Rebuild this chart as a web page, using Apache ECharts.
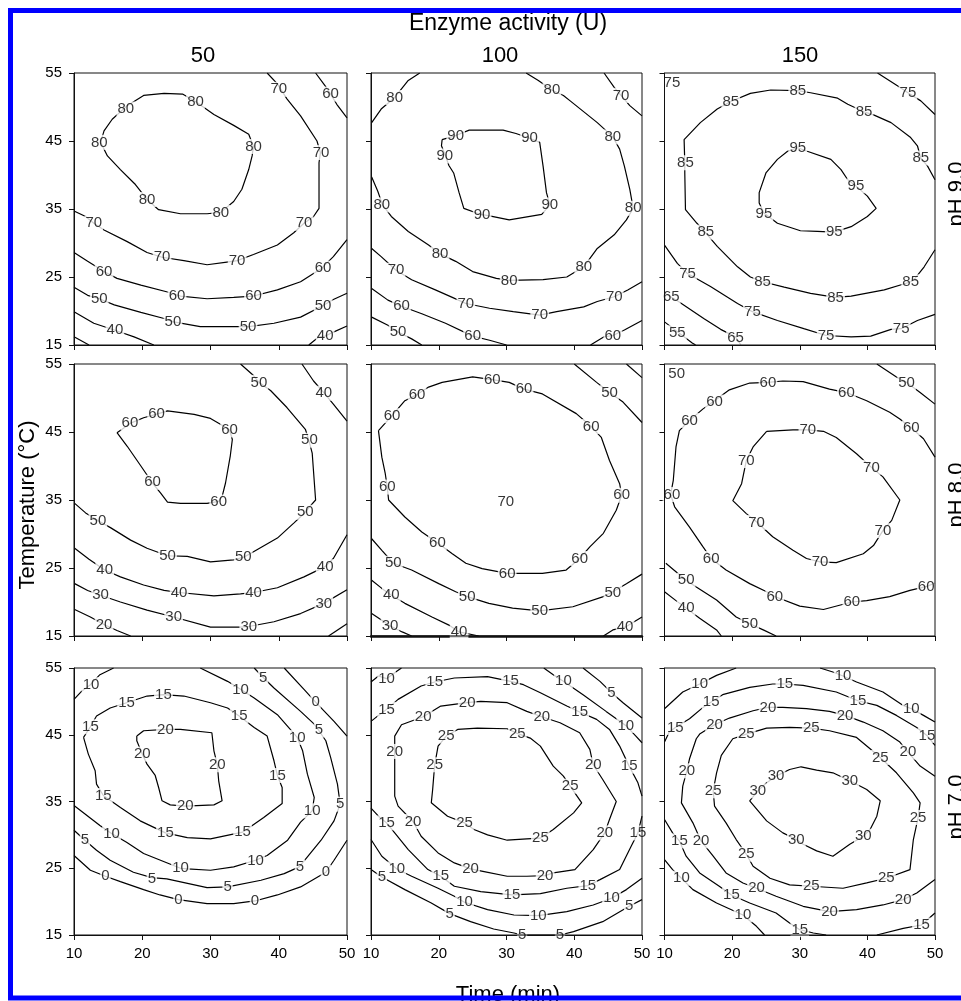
<!DOCTYPE html>
<html><head><meta charset="utf-8">
<script src="https://cdn.jsdelivr.net/npm/echarts@6/dist/echarts.min.js"></script>
<style>html,body{margin:0;padding:0;background:#fff}#c{width:961px;height:1001px}</style>
</head><body><div id="c"></div>
<script>
// ---------- tick labels / headings ----------
const timeTicks = [10, 20, 30, 40, 50];
const tempTicks = [15, 25, 35, 45, 55];
const enzymeLevels = ['50', '100', '150'];
const phLevels = ['pH 9.0', 'pH 8.0', 'pH 7.0'];

// ---------- Panel 1: pH 9.0, 50 U ----------
const p1_80 = [[13.9,44.8],[14.9,42.8],[16.8,40.8],[19.0,38.6],[20.7,36.4],[22.4,34.9],[25.6,34.3],[29.5,34.3],[31.5,34.5],[33.4,36.1],[34.6,37.9],[35.6,40.8],[36.1,42.8],[36.3,44.2],[35.6,46.0],[33.4,47.3],[30.5,48.9],[27.8,50.8],[25.9,51.9],[23.2,52.0],[20.2,51.7],[17.8,50.2],[15.6,48.2],[14.4,46.5],[13.9,44.8]];
const p1_70 = [[38.3,55],[39.8,53.4],[41.2,51.2],[43.2,48.7],[45.6,45.0],[46.1,43.3],[45.9,41.8],[45.9,35.1],[45.1,33.9],[43.7,32.9],[42.2,31.5],[39.8,29.7],[36.3,28.3],[33.9,27.4],[32.4,27.2],[29.5,26.8],[26.1,27.4],[22.9,27.9],[20.7,28.6],[17.8,30.2],[14.4,31.9],[12.9,32.9],[11.7,33.9],[10,34.7]];
const p1_60a = [[45.4,55],[46.8,53.1],[47.6,51.9],[48.5,50.4],[50,48.4]];
const p1_60b = [[10,28.6],[12.0,27.3],[14.4,25.8],[16.3,24.8],[19.8,23.8],[23.7,22.8],[25.6,22.2],[29.5,21.8],[33.4,22.0],[36.3,22.2],[39.8,23.1],[43.2,24.3],[46.3,26.3],[48.0,28.0],[50,30.5]];
const p1_50 = [[10,23.5],[12.0,22.3],[13.7,21.8],[15.9,20.9],[19.8,19.8],[23.2,18.9],[24.6,18.4],[28.5,17.7],[33.4,17.7],[35.6,17.7],[39.3,18.2],[43.2,19.1],[46.3,20.7],[48.0,21.7],[50,22.6]];
const p1_40a = [[10,19.9],[12.9,18.2],[15.9,17.2],[18.8,16.2],[21.7,15]];
const p1_40b = [[44.4,15],[45.9,16.2],[46.8,16.3],[48.0,16.9],[50,17.8]];
const p1_30 = [[10,16.2],[12.2,15]];
const p1_lab = [[13.7,44.8,'80'],[20.7,36.4,'80'],[31.5,34.5,'80'],[36.3,44.2,'80'],[27.8,50.8,'80'],[17.6,49.7,'80'],
 [40.0,52.6,'70'],[46.2,43.3,'70'],[43.7,32.9,'70'],[33.9,27.4,'70'],[22.9,27.9,'70'],[12.9,32.9,'70'],
 [47.6,51.9,'60'],[14.4,25.8,'60'],[25.1,22.2,'60'],[36.3,22.2,'60'],[46.5,26.3,'60'],
 [13.7,21.8,'50'],[24.5,18.4,'50'],[35.5,17.7,'50'],[46.5,20.7,'50'],
 [16.0,17.2,'40'],[46.8,16.3,'40']];

// ---------- Panel 2: pH 9.0, 100 U ----------
const p2_80a = [[10.1,47.7],[11.5,49.7],[13.5,51.4],[15.5,53.9],[17.2,55]];
const p2_80b = [[10.1,39.7],[11.0,37.6],[11.7,35.6],[13.0,33.9],[15.5,31.7],[18.5,29.7],[20.2,28.4],[22.5,27.3],[25.0,25.8],[28.5,24.8],[30.4,24.5],[35.4,24.6],[38.9,25.0],[41.4,26.5],[43.4,29.2],[45.9,31.2],[47.7,33.4],[48.7,35.1],[48.2,37.9],[47.4,41.3],[46.7,43.8],[45.7,45.6],[43.4,47.7],[39.4,50.9],[38.4,51.7],[36.7,52.5],[34.7,53.9],[32.9,55]];
const p2_70a = [[44.4,55],[45.9,52.9],[46.9,51.7],[48.2,50.2],[50,48.7]];
const p2_90 = [[20.5,45.2],[22.5,45.8],[24.5,46.6],[29.5,46.6],[31.4,46.1],[33.4,45.4],[34.9,44.8],[35.4,41.3],[35.9,37.4],[36.4,35.6],[35.2,34.2],[30.4,33.4],[27.5,34.0],[26.2,34.2],[23.7,35.1],[23.0,37.4],[22.2,40.3],[21.5,41.4],[21.0,42.8],[20.4,44.3],[20.5,45.2]];
const p2_70b = [[10.1,29.2],[11.5,28.0],[13.7,26.0],[16.0,24.6],[19.5,23.1],[22.0,22.0],[24.0,21.1],[27.5,20.4],[31.0,19.9],[34.9,19.4],[37.4,19.9],[41.4,20.6],[43.4,21.4],[45.9,22.1],[47.9,23.1],[50,24.3]];
const p2_60a = [[10.1,23.3],[12.5,21.6],[14.5,20.7],[17.5,19.6],[21.0,18.2],[25.0,16.3],[27.5,15.7],[30.0,15]];
const p2_60b = [[42.4,15],[44.4,16.2],[45.7,16.4],[47.4,17.2],[50,18.6]];
const p2_50 = [[10.1,19.1],[12.5,17.9],[14.0,16.9],[16.0,15.9],[17.5,15]];
const p2_lab = [[13.5,51.4,'80'],[11.6,35.6,'80'],[20.2,28.4,'80'],[30.4,24.5,'80'],[41.4,26.5,'80'],[48.7,35.1,'80'],[45.7,45.6,'80'],[36.7,52.5,'80'],
 [46.9,51.7,'70'],
 [22.5,45.7,'90'],[20.9,42.8,'90'],[33.4,45.4,'90'],[36.4,35.6,'90'],[26.4,34.2,'90'],
 [13.7,26.0,'70'],[24.0,21.1,'70'],[34.9,19.4,'70'],[45.9,22.1,'70'],
 [14.5,20.7,'60'],[25.0,16.3,'60'],[45.7,16.4,'60'],
 [14.0,16.9,'50']];

// ---------- Panel 3: pH 9.0, 150 U ----------
const p3_85 = [[50,29.0],[48.4,26.5],[46.9,24.6],[46.4,24.3],[45.5,24.0],[42.5,23.1],[37.6,22.2],[35.3,22.0],[31.6,22.6],[27.7,23.5],[24.5,24.3],[22.7,25.0],[20.8,26.5],[17.8,29.5],[16.1,31.5],[14.8,32.9],[13.1,34.9],[13.0,40.3],[13.0,41.8],[12.9,45.2],[15.3,47.7],[17.8,49.7],[19.8,50.8],[22.7,52.0],[25.7,52.5],[29.7,52.4],[31.6,52.1],[35.6,51.3],[37.1,50.4],[39.5,49.3],[41.0,48.8],[43.5,47.7],[46.4,45.5],[47.4,44.3],[47.9,42.5],[48.9,41.3],[50,39.3]];
const p3_95 = [[29.7,44.0],[31.1,43.5],[34.6,42.3],[36.1,40.8],[37.1,39.3],[38.3,38.4],[40.0,36.9],[41.3,35.1],[40.0,33.9],[37.6,32.4],[35.1,31.6],[32.6,31.7],[30.1,31.8],[26.7,32.9],[24.7,34.4],[24.0,35.9],[24.0,37.4],[25.0,40.3],[26.7,42.3],[28.2,43.5],[29.7,44.0]];
const p3_75a = [[41.5,55],[44.5,53.1],[46.0,52.1],[47.9,50.9],[50,48.9]];
const p3_75b = [[10,29.7],[11.9,27.0],[13.4,25.5],[16.8,23.6],[20.8,21.1],[23.0,19.9],[26.7,18.6],[30.6,17.4],[33.9,16.4],[37.6,16.2],[40.5,16.3],[43.5,17.3],[45.0,17.4],[47.4,18.6],[50,19.5]];
const p3_65 = [[10,22.6],[11.9,21.5],[15.8,18.9],[18.3,17.3],[20.5,16.2],[21.3,15]];
const p3_55 = [[10,18.4],[14.1,15.3],[14.6,15]];
const p3_lab = [[11.1,53.5,'75'],
 [46.4,24.3,'85'],[35.3,22.0,'85'],[24.5,24.3,'85'],[16.1,31.6,'85'],[13.1,41.8,'85'],[19.8,50.8,'85'],[29.7,52.4,'85'],[39.5,49.3,'85'],[47.9,42.5,'85'],
 [29.7,44.0,'95'],[38.3,38.4,'95'],[35.1,31.6,'95'],[24.7,34.3,'95'],
 [46.0,52.1,'75'],[13.4,25.5,'75'],[23.0,19.9,'75'],[33.9,16.4,'75'],[45.0,17.4,'75'],
 [11.0,22.1,'65'],[20.5,16.1,'65'],[11.9,16.8,'55']];

// ---------- Panel 4: pH 8.0, 50 U ----------
const p4_60 = [[16.3,44.9],[18.3,46.3],[20.2,47.1],[22.0,47.6],[23.7,48.1],[27.6,47.6],[30.0,47.0],[31.7,46.0],[32.8,45.3],[33.2,43.9],[32.9,41.5],[32.2,37.5],[31.7,35.5],[31.2,34.8],[29.5,34.5],[25.6,34.5],[23.7,34.7],[22.7,36.0],[21.5,37.5],[19.8,40.0],[17.8,42.9],[16.3,44.9]];
const p4_50 = [[34.4,55],[36.3,53.3],[37.1,52.3],[38.8,51.1],[41.2,48.6],[43.9,45.4],[44.4,43.8],[44.9,41.9],[45.4,35.0],[44.6,34.1],[43.9,33.2],[42.2,31.6],[39.8,29.4],[36.3,27.4],[34.9,26.6],[33.4,26.2],[30.0,25.9],[26.6,26.7],[23.7,26.8],[20.7,27.9],[18.3,29.1],[15.4,30.9],[13.5,32.0],[11.7,33.1],[10.1,34.5]];
const p4_40a = [[43.4,55],[45.1,52.5],[46.6,50.8],[48.0,49.1],[50,46.6]];
const p4_40b = [[10.1,27.9],[12.2,26.3],[14.5,24.7],[16.8,23.7],[20.2,22.5],[23.2,21.7],[25.4,21.4],[30.5,20.9],[34.4,21.2],[36.3,21.4],[39.8,22.1],[43.7,23.7],[46.8,25.2],[48.0,26.4],[50,29.9]];
const p4_30 = [[10.1,22.7],[12.0,21.7],[13.9,21.0],[16.8,20.0],[20.7,18.8],[24.6,17.8],[30.0,16.3],[34.4,16.3],[35.6,16.4],[39.3,17.1],[43.2,18.3],[46.6,19.8],[50,21.8]];
const p4_20a = [[10.1,18.9],[12.4,17.8],[14.4,16.7],[16.3,15.8],[18.3,15]];
const p4_20b = [[47.3,15],[50,16.8]];
const p4_lab = [[18.2,46.3,'60'],[22.1,47.6,'60'],[32.8,45.3,'60'],[21.5,37.6,'60'],[31.2,34.7,'60'],
 [37.1,52.3,'50'],[44.5,43.8,'50'],[43.9,33.2,'50'],[34.8,26.6,'50'],[23.7,26.8,'50'],[13.5,32.0,'50'],
 [46.6,50.7,'40'],[14.5,24.7,'40'],[25.4,21.4,'40'],[36.3,21.4,'40'],[46.8,25.2,'40'],
 [13.9,21.0,'30'],[24.6,17.8,'30'],[35.6,16.4,'30'],[46.6,19.7,'30'],
 [14.4,16.7,'20']];

// ---------- Panel 5: pH 8.0, 100 U ----------
const p5_60 = [[11.1,45.2],[13.1,47.4],[15.0,49.6],[16.8,50.5],[18.5,51.6],[20.5,52.3],[25.0,53.1],[27.9,52.7],[30.4,52.3],[32.6,51.3],[35.3,50.6],[40.3,47.7],[42.5,45.8],[44.0,44.2],[45.2,40.8],[46.7,37.4],[47.0,35.7],[46.2,33.5],[44.3,30.1],[42.3,28.1],[40.8,26.4],[38.8,24.7],[35.3,24.2],[32.4,24.2],[30.1,24.2],[26.4,24.9],[24.0,25.7],[22.0,27.1],[19.8,28.7],[17.5,30.3],[15.0,32.5],[12.6,35.0],[12.4,36.9],[12.1,38.9],[11.6,41.3],[11.1,45.2]];
const p5_50a = [[40.0,55],[43.3,52.3],[45.2,50.8],[47.2,49.4],[50,46.4]];
const p5_40a = [[47.7,55],[50,53.0]];
const p5_50b = [[10.1,29.3],[11.6,27.6],[13.3,25.7],[16.0,24.7],[20.0,22.7],[22.5,21.5],[24.2,20.8],[27.4,19.8],[30.9,19.1],[34.9,18.7],[39.8,19.3],[44.3,20.8],[45.7,21.5],[47.7,22.7],[50,24.1]];
const p5_40b = [[10.1,23.2],[11.6,22.0],[13.0,21.0],[15.0,19.8],[19.0,17.8],[21.5,16.6],[23.0,15.6],[25.9,15]];
const p5_40c = [[44.3,15],[45.7,15.9],[47.5,16.3],[50,17.8]];
const p5_30 = [[10.1,18.3],[11.6,17.3],[12.8,16.5],[14.6,15.6],[16.0,15]];
const p5_lab = [[27.9,52.7,'60'],[32.6,51.3,'60'],[16.8,50.5,'60'],[13.1,47.4,'60'],[12.4,36.9,'60'],[19.8,28.7,'60'],[30.1,24.2,'60'],[40.8,26.4,'60'],[47.0,35.7,'60'],[42.5,45.8,'60'],
 [29.9,34.7,'70'],
 [45.2,50.8,'50'],[13.3,25.7,'50'],[24.2,20.7,'50'],[34.9,18.7,'50'],[45.7,21.4,'50'],
 [13.0,21.0,'40'],[23.0,15.6,'40'],[47.5,16.3,'40'],
 [12.8,16.5,'30']];

// ---------- Panel 6: pH 8.0, 150 U ----------
const p6_60 = [[50,41.3],[48.3,44.0],[46.5,45.6],[44.8,46.9],[43.3,47.9],[39.9,49.6],[36.9,50.8],[34.4,51.3],[30.5,52.4],[27.5,52.5],[25.3,52.3],[22.6,52.2],[19.6,51.2],[17.4,49.6],[15.7,48.4],[13.7,46.7],[12.2,45.2],[11.7,42.8],[11.3,37.9],[10.9,35.8],[11.5,34.0],[13.7,31.0],[15.7,28.1],[16.9,26.4],[19.1,24.7],[22.6,22.7],[25.1,21.5],[26.3,20.8],[30.0,19.4],[33.5,18.9],[37.7,20.0],[39.9,20.2],[43.3,20.8],[46.3,21.7],[48.8,22.3],[50,22.8]];
const p6_50a = [[41.4,55],[44.3,53.1],[45.8,52.3],[47.8,50.8],[50,49.1]];
const p6_70 = [[25.1,45.1],[29.0,45.3],[31.2,45.3],[33.5,45.1],[35.4,44.2],[38.4,41.8],[40.6,39.8],[42.3,38.4],[44.8,35.0],[43.6,32.0],[42.3,30.5],[40.9,28.3],[39.4,27.1],[35.4,25.8],[33.0,25.9],[31.0,26.4],[29.0,27.6],[26.0,29.6],[23.6,31.8],[22.1,33.0],[20.1,34.9],[21.4,37.4],[22.1,40.8],[23.1,42.8],[25.1,45.1]];
const p6_50b = [[10.2,25.7],[12.0,24.2],[13.2,23.2],[14.7,22.2],[17.7,20.3],[20.6,17.8],[22.6,16.8],[24.6,15.9],[26.5,15]];
const p6_40 = [[10,21.5],[11.7,20.2],[13.2,19.1],[15.2,17.6],[17.7,15.9],[18.4,15]];
const p6_lab = [[11.8,53.6,'50'],
 [25.3,52.3,'60'],[36.9,50.8,'60'],[17.4,49.4,'60'],[13.7,46.7,'60'],[46.5,45.6,'60'],[11.1,35.8,'60'],[16.9,26.4,'60'],[26.3,20.7,'60'],[37.7,20.0,'60'],[48.7,22.3,'60'],
 [45.8,52.3,'50'],
 [31.2,45.3,'70'],[22.1,40.8,'70'],[40.6,39.8,'70'],[23.6,31.7,'70'],[42.3,30.5,'70'],[33.0,25.9,'70'],
 [13.2,23.2,'50'],[22.6,16.8,'50'],
 [13.2,19.1,'40']];

// ---------- Panel 7: pH 7.0, 50 U ----------
const p7_10a = [[10,50.3],[11.1,51.5],[12.4,52.5],[13.8,54.0],[15.8,55]];
const p7_10b = [[28.5,55],[32.5,53.0],[34.4,51.8],[36.4,50.5],[39.8,48.0],[42.3,45.1],[42.7,44.6],[43.5,42.6],[44.2,39.1],[45.2,35.6],[44.9,33.6],[43.2,31.9],[41.3,29.2],[38.3,26.9],[36.6,26.2],[33.4,25.2],[30.0,24.7],[26.6,24.9],[25.6,25.0],[20.2,27.2],[17.7,28.9],[15.5,30.2],[13.8,31.4],[10,34.4]];
const p7_15 = [[11.4,44.6],[12.1,42.1],[13.1,39.6],[13.3,37.6],[14.3,35.9],[16.8,34.1],[19.7,32.1],[23.4,30.3],[26.6,29.6],[30.0,29.4],[34.7,30.4],[37.8,32.6],[40.5,34.7],[40.5,37.1],[39.8,38.9],[39.3,41.1],[38.3,44.8],[36.4,46.1],[34.2,47.8],[32.5,49.0],[30.0,49.8],[26.1,50.8],[23.1,51.0],[20.7,50.8],[17.7,49.8],[15.3,49.0],[13.3,47.8],[12.4,46.2],[11.4,44.6]];
const p7_20 = [[19.2,44.8],[20.2,45.6],[23.4,45.8],[25.6,45.8],[30.2,45.3],[30.5,42.6],[31.0,40.5],[31.2,38.1],[31.7,35.1],[30.5,34.5],[26.3,34.3],[24.1,34.5],[22.9,35.1],[22.4,37.1],[21.9,38.9],[20.7,40.6],[20.0,42.1],[19.2,44.1],[19.2,44.8]];
const p7_5 = [[36.4,55],[37.8,53.5],[39.3,52.0],[43.2,48.5],[45.2,46.6],[45.9,45.6],[46.9,44.1],[47.6,41.6],[48.6,37.6],[49.0,34.6],[48.1,32.1],[46.2,29.2],[44.2,26.7],[43.0,25.2],[40.8,24.2],[37.4,23.2],[32.5,22.2],[29.5,22.1],[23.6,23.4],[21.4,23.6],[18.7,24.4],[15.3,26.2],[13.3,27.7],[11.6,29.2],[10,30.7]];
const p7_0a = [[40.8,55],[43.7,51.8],[45.4,49.9],[48.1,47.0],[50,44.8]];
const p7_0b = [[10,26.9],[12.4,24.7],[14.6,23.8],[16.8,23.0],[20.2,21.8],[22.6,21.0],[25.3,20.3],[29.5,19.7],[33.4,19.7],[36.5,20.1],[39.8,21.0],[43.2,22.2],[46.9,24.4],[48.1,26.2],[50,29.2]];
const p7_lab = [[12.5,52.5,'10'],[34.4,51.8,'10'],[42.7,44.6,'10'],[44.9,33.6,'10'],[36.6,26.1,'10'],[25.6,25.0,'10'],[15.5,30.2,'10'],
 [17.7,49.8,'15'],[23.1,51.0,'15'],[34.2,47.8,'15'],[12.4,46.2,'15'],[39.8,38.9,'15'],[14.3,35.9,'15'],[23.4,30.3,'15'],[34.7,30.4,'15'],
 [23.4,45.8,'20'],[20.0,42.1,'20'],[31.0,40.5,'20'],[26.3,34.3,'20'],
 [37.7,53.5,'5'],[45.9,45.7,'5'],[49.0,34.6,'5'],[43.1,25.2,'5'],[32.5,22.2,'5'],[21.4,23.4,'5'],[11.6,29.2,'5'],
 [45.4,49.9,'0'],[14.6,23.8,'0'],[25.3,20.3,'0'],[36.5,20.1,'0'],[46.9,24.4,'0']];

// ---------- Panel 8: pH 7.0, 100 U ----------
const p8_10a = [[10,52.9],[11.1,53.8],[12.3,53.4],[13.8,54.5],[14.5,55]];
const p8_15a = [[10,47.0],[11.1,47.9],[12.3,48.8],[14.0,50.3],[17.4,52.3],[19.4,52.9],[22.3,53.5],[27.2,53.7],[30.6,53.0],[32.5,52.5],[35.0,51.3],[38.9,49.3],[40.8,48.4],[43.3,47.3],[45.2,45.8],[46.7,43.3],[48.1,40.3],[49.4,37.8],[50,35.8]];
const p8_15b = [[10,34.0],[11.1,32.8],[12.3,31.8],[13.5,30.3],[15.5,27.8],[18.4,24.8],[20.3,23.8],[22.3,22.3],[26.2,21.5],[30.8,21.0],[35.0,21.2],[38.9,22.0],[42.0,22.4],[43.8,23.3],[46.7,24.8],[48.4,28.3],[49.4,30.3],[50,32.8]];
const p8_20 = [[13.5,42.5],[13.5,44.8],[14.5,46.5],[17.7,47.7],[20.3,49.3],[24.2,49.8],[26.2,50.0],[30.1,49.8],[33.0,48.5],[35.2,47.7],[37.9,46.8],[40.8,45.3],[42.3,42.8],[42.8,40.5],[44.2,38.3],[46.2,35.0],[45.2,32.3],[44.5,30.3],[42.8,27.8],[40.1,24.8],[36.9,24.3],[35.7,23.9],[33.0,23.8],[30.1,23.8],[26.7,24.5],[24.7,24.9],[22.3,25.8],[19.9,27.3],[17.4,29.8],[16.2,32.0],[14.0,34.3],[13.5,35.8],[13.5,39.3],[13.5,42.5]];
const p8_25 = [[21.1,44.8],[22.8,45.8],[25.7,46.0],[30.1,45.9],[31.6,45.2],[33.5,44.5],[35.0,43.3],[36.9,40.3],[38.4,38.8],[39.4,37.3],[41.1,34.8],[39.9,33.3],[36.9,30.8],[35.0,29.5],[33.0,29.4],[30.1,29.2],[27.2,30.0],[25.2,30.8],[23.8,31.8],[21.3,32.8],[18.9,34.8],[19.1,36.8],[19.4,40.5],[19.9,43.3],[21.1,44.8]];
const p8_10b = [[35.5,55],[36.9,54.0],[38.4,53.0],[41.3,51.0],[44.7,48.5],[47.6,46.4],[49.1,44.8],[50,43.8]];
const p8_5a = [[41.3,55],[43.8,53.0],[45.5,51.3],[47.2,49.8],[50,47.5]];
const p8_10c = [[10,29.3],[11.6,26.8],[13.8,24.9],[16.0,23.8],[19.9,22.0],[22.3,20.8],[23.8,19.9],[27.2,18.8],[31.1,18.0],[34.7,17.9],[38.9,18.5],[42.8,19.5],[45.5,20.5],[47.7,21.8],[50,23.5]];
const p8_5b = [[10,24.8],[11.6,23.7],[15.0,21.8],[18.9,19.8],[21.6,18.2],[24.7,17.0],[28.1,15.9],[31.1,15.3],[32.3,15.0],[35.0,15.0],[37.9,15.0],[39.9,15.5],[44.2,17.0],[48.1,19.3],[50,20.3]];
const p8_lab = [[12.3,53.4,'10'],
 [12.3,48.8,'15'],[19.4,52.9,'15'],[30.6,53.0,'15'],[40.8,48.4,'15'],[48.1,40.3,'15'],
 [12.3,31.8,'15'],[20.3,23.8,'15'],[30.8,21.0,'15'],[42.0,22.4,'15'],[49.4,30.3,'15'],
 [17.7,47.7,'20'],[24.2,49.8,'20'],[35.2,47.7,'20'],[42.8,40.5,'20'],[44.5,30.3,'20'],[35.7,23.9,'20'],[24.7,24.9,'20'],[16.2,32.0,'20'],[13.5,42.5,'20'],
 [21.1,44.8,'25'],[19.4,40.5,'25'],[31.6,45.2,'25'],[39.4,37.3,'25'],[35.0,29.5,'25'],[23.8,31.8,'25'],
 [38.4,53.0,'10'],[47.6,46.4,'10'],[45.5,51.3,'5'],
 [13.8,24.9,'10'],[23.8,19.9,'10'],[34.7,17.9,'10'],[45.5,20.5,'10'],
 [11.6,23.7,'5'],[21.6,18.2,'5'],[32.3,15.0,'5'],[37.9,15.0,'5'],[48.1,19.3,'5']];

// ---------- Panel 9: pH 7.0, 150 U ----------
const p9_10a = [[10,48.9],[12.7,51.4],[15.2,52.6],[17.7,53.9],[20.6,55]];
const p9_10b = [[33.0,55],[34.9,54.4],[36.4,53.8],[38.4,52.9],[42.3,51.4],[45.3,49.4],[46.5,48.9],[48.3,47.9],[50,46.9]];
const p9_15a = [[10,43.9],[10.7,45.4],[11.6,46.1],[13.7,47.4],[15.7,49.1],[16.9,49.9],[18.6,51.0],[22.6,52.1],[26.0,52.6],[27.8,52.6],[30.5,52.4],[35.4,51.4],[38.6,50.1],[41.4,49.4],[44.3,47.9],[47.3,46.1],[48.8,44.9],[50,43.4]];
const p9_20 = [[50,38.8],[47.8,40.3],[46.0,42.4],[44.8,43.9],[42.3,45.6],[39.4,46.9],[36.7,47.9],[34.4,48.5],[31.0,48.9],[27.5,49.1],[25.3,49.1],[23.1,48.6],[19.6,47.5],[17.4,46.5],[15.2,45.1],[14.7,44.4],[13.7,41.4],[13.3,39.6],[12.7,37.3],[12.5,34.8],[14.2,31.8],[15.4,29.1],[17.2,26.8],[19.1,24.3],[21.6,22.8],[23.6,22.0],[26.5,20.8],[30.5,19.3],[34.4,18.5],[38.4,18.8],[42.3,19.5],[45.3,20.3],[47.3,21.3],[50,23.3]];
const p9_25 = [[22.1,45.1],[25.1,46.0],[28.5,46.1],[31.7,46.0],[34.4,45.6],[38.4,44.6],[40.4,42.9],[41.9,41.6],[44.3,39.3],[46.8,36.3],[47.8,34.8],[47.5,32.6],[46.8,29.3],[46.3,24.8],[42.8,23.5],[39.9,22.8],[36.4,22.0],[31.7,22.3],[28.5,22.5],[25.6,23.5],[23.1,25.3],[22.1,27.1],[20.6,29.3],[19.1,31.8],[17.4,34.3],[17.2,36.6],[17.7,39.3],[18.4,41.9],[20.1,44.4],[22.1,45.1]];
const p9_30 = [[26.5,38.8],[28.5,39.8],[30.2,40.2],[32.5,39.7],[34.9,39.3],[37.4,38.1],[39.9,36.8],[41.9,35.1],[41.4,32.8],[40.4,30.8],[39.4,29.8],[37.4,28.6],[34.9,26.8],[32.5,27.6],[30.5,28.6],[29.5,29.3],[27.5,30.3],[25.1,32.1],[22.6,35.1],[23.8,36.6],[25.1,37.8],[26.5,38.8]];
const p9_15b = [[10,32.3],[11.2,30.3],[12.2,29.1],[13.2,26.8],[15.2,24.3],[18.1,22.3],[19.9,21.0],[22.6,19.8],[26.5,18.3],[28.5,16.8],[30.0,15.8],[32.0,15.3],[33.9,15.0]];
const p9_15c = [[41.4,15],[45.3,16.0],[48.0,16.5],[50,18.3]];
const p9_10c = [[10,26.3],[11.2,24.8],[12.5,23.5],[14.2,21.8],[17.7,19.8],[21.6,18.0],[23.6,16.3],[24.8,15.0]];
const p9_lab = [[15.2,52.6,'10'],[36.4,53.8,'10'],[46.5,48.9,'10'],
 [11.6,46.1,'15'],[16.9,49.9,'15'],[27.8,52.6,'15'],[38.6,50.1,'15'],[48.8,44.9,'15'],
 [46.0,42.4,'20'],[36.7,47.9,'20'],[25.3,49.1,'20'],[17.4,46.5,'20'],[13.3,39.6,'20'],[15.4,29.1,'20'],[23.6,22.0,'20'],[34.4,18.5,'20'],[45.3,20.3,'20'],
 [22.1,45.1,'25'],[31.7,46.0,'25'],[41.9,41.6,'25'],[47.5,32.6,'25'],[42.8,23.5,'25'],[31.7,22.3,'25'],[22.1,27.1,'25'],[17.2,36.6,'25'],
 [26.5,38.8,'30'],[23.8,36.6,'30'],[37.4,38.1,'30'],[39.4,29.8,'30'],[29.5,29.3,'30'],
 [12.2,29.1,'15'],[19.9,21.0,'15'],[30.0,15.8,'15'],[48.0,16.5,'15'],
 [12.5,23.5,'10'],[21.6,18.0,'10']];

const panels = [
  { lines: [p1_80, p1_70, p1_60a, p1_60b, p1_50, p1_40a, p1_40b, p1_30], labels: p1_lab },
  { lines: [p2_80a, p2_80b, p2_70a, p2_90, p2_70b, p2_60a, p2_60b, p2_50], labels: p2_lab },
  { lines: [p3_85, p3_95, p3_75a, p3_75b, p3_65, p3_55], labels: p3_lab },
  { lines: [p4_60, p4_50, p4_40a, p4_40b, p4_30, p4_20a, p4_20b], labels: p4_lab },
  { lines: [p5_60, p5_50a, p5_40a, p5_50b, p5_40b, p5_40c, p5_30], labels: p5_lab },
  { lines: [p6_60, p6_50a, p6_70, p6_50b, p6_40], labels: p6_lab },
  { lines: [p7_10a, p7_10b, p7_15, p7_20, p7_5, p7_0a, p7_0b], labels: p7_lab },
  { lines: [p8_10a, p8_15a, p8_15b, p8_20, p8_25, p8_10b, p8_5a, p8_10c, p8_5b], labels: p8_lab },
  { lines: [p9_10a, p9_10b, p9_15a, p9_20, p9_25, p9_30, p9_15b, p9_15c, p9_10c], labels: p9_lab }
];

// ---------- layout ----------
const FONT = '"Liberation Sans", Arial, Helvetica, sans-serif';
const colLeft = [74, 371, 664.5], colW = [273, 271, 270.5];
const rowTop = [73, 364, 668], rowH = [272, 272, 267];
const grids = [], xAxes = [], yAxes = [], series = [];

panels.forEach((p, i) => {
  const r = Math.floor(i / 3), c = i % 3;
  grids.push({ left: colLeft[c], top: rowTop[r], width: colW[c], height: rowH[r],
    show: true, borderColor: '#111', borderWidth: 1, backgroundColor: 'transparent',
    containLabel: false, outerBoundsMode: 'none', z: 5 });
  xAxes.push({ type: 'value', gridIndex: i, min: timeTicks[0], max: timeTicks[timeTicks.length - 1],
    interval: timeTicks[1] - timeTicks[0],
    axisLine: { show: true, onZero: false, lineStyle: { color: '#111', width: i === 4 ? 2.5 : 1 } },
    axisTick: { show: true, length: 5, inside: false, lineStyle: { color: '#111' } },
    axisLabel: { show: r === 2, fontSize: 15, color: '#000', margin: 11, fontFamily: FONT },
    splitLine: { show: false } });
  yAxes.push({ type: 'value', gridIndex: i, min: tempTicks[0], max: tempTicks[tempTicks.length - 1],
    interval: tempTicks[1] - tempTicks[0],
    axisLine: { show: true, onZero: false, lineStyle: { color: '#111', width: 1 } },
    axisTick: { show: true, length: 5, inside: false, lineStyle: { color: '#111' } },
    axisLabel: { show: c === 0, fontSize: 15, color: '#000', margin: 12, fontFamily: FONT },
    splitLine: { show: false } });
  p.lines.forEach(d => series.push({ type: 'line', xAxisIndex: i, yAxisIndex: i, data: d,
    symbol: 'none', showSymbol: false, smooth: false, clip: true, silent: true, z: 2,
    lineStyle: { color: '#000', width: 1.2 } }));
  series.push({ type: 'scatter', xAxisIndex: i, yAxisIndex: i, data: p.labels,
    encode: { x: 0, y: 1 }, symbolSize: 1, silent: true, z: 3,
    itemStyle: { color: 'rgba(0,0,0,0)' },
    label: { show: true, position: 'inside', formatter: q => q.value[2], fontSize: 15,
      color: '#000', fontFamily: FONT, backgroundColor: '#fff', padding: [0, 1] } });
});

const graphic = [
  { type: 'text', x: 508, y: 24, z: 50, style: { text: 'Enzyme activity (U)', font: '23px ' + FONT, fill: '#000', textAlign: 'center', textVerticalAlign: 'middle' } },
  { type: 'text', x: 203, y: 56, z: 50, style: { text: enzymeLevels[0], font: '22px ' + FONT, fill: '#000', textAlign: 'center', textVerticalAlign: 'middle' } },
  { type: 'text', x: 500, y: 56, z: 50, style: { text: enzymeLevels[1], font: '22px ' + FONT, fill: '#000', textAlign: 'center', textVerticalAlign: 'middle' } },
  { type: 'text', x: 800, y: 56, z: 50, style: { text: enzymeLevels[2], font: '22px ' + FONT, fill: '#000', textAlign: 'center', textVerticalAlign: 'middle' } },
  { type: 'text', x: 28, y: 505, rotation: Math.PI / 2, z: 50, style: { text: 'Temperature (°C)', font: '22px ' + FONT, fill: '#000', textAlign: 'center', textVerticalAlign: 'middle' } },
  { type: 'text', x: 508, y: 995, z: 50, style: { text: 'Time (min)', font: '22px ' + FONT, fill: '#000', textAlign: 'center', textVerticalAlign: 'middle' } },
  { type: 'text', x: 957, y: 194, rotation: Math.PI / 2, z: 50, style: { text: phLevels[0], font: '22px ' + FONT, fill: '#000', textAlign: 'center', textVerticalAlign: 'middle' } },
  { type: 'text', x: 957, y: 495, rotation: Math.PI / 2, z: 50, style: { text: phLevels[1], font: '22px ' + FONT, fill: '#000', textAlign: 'center', textVerticalAlign: 'middle' } },
  { type: 'text', x: 957, y: 807, rotation: Math.PI / 2, z: 50, style: { text: phLevels[2], font: '22px ' + FONT, fill: '#000', textAlign: 'center', textVerticalAlign: 'middle' } },
  { type: 'rect', z: 100, shape: { x: 10.5, y: 10.5, width: 1100, height: 987.5 }, style: { fill: 'none', stroke: '#0000ff', lineWidth: 5 } }
];

const chart = echarts.init(document.getElementById('c'), null, { renderer: 'canvas', width: 961, height: 1001 });
chart.setOption({
  backgroundColor: '#fff', animation: false, textStyle: { fontFamily: FONT },
  grid: grids, xAxis: xAxes, yAxis: yAxes, series: series, graphic: graphic
});
</script></body></html>
